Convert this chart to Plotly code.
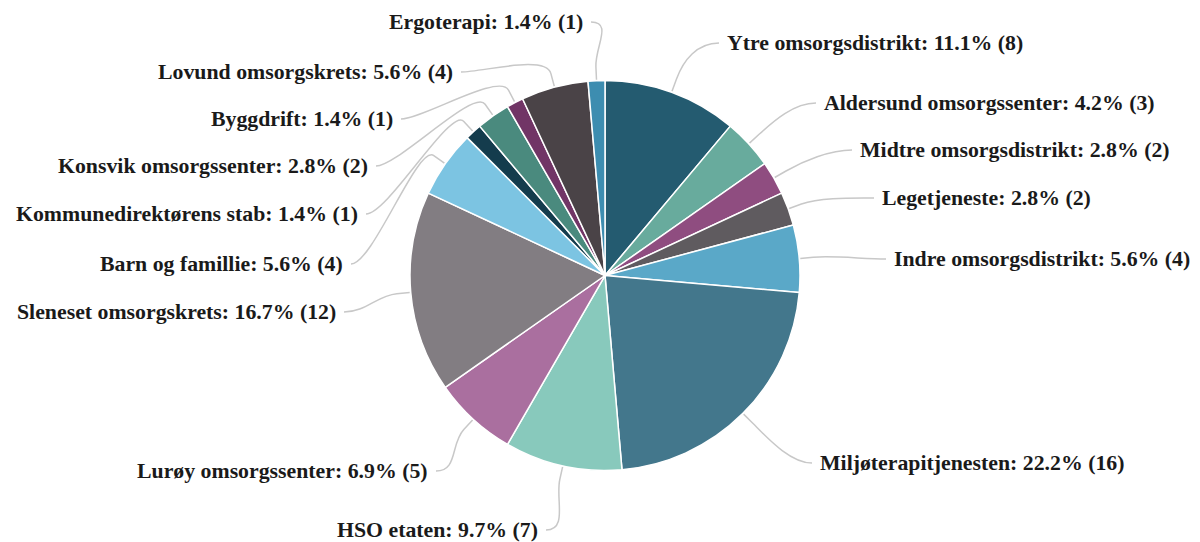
import math
import plotly.graph_objects as go

# Fordeling per enhet (antall), i rekkefølge med klokka fra kl. 12
units = [
    "Ytre omsorgsdistrikt", "Aldersund omsorgssenter", "Midtre omsorgsdistrikt",
    "Legetjeneste", "Indre omsorgsdistrikt", "Miljøterapitjenesten", "HSO etaten",
    "Lurøy omsorgssenter", "Sleneset omsorgskrets", "Barn og famillie",
    "Kommunedirektørens stab", "Konsvik omsorgssenter", "Byggdrift",
    "Lovund omsorgskrets", "Ergoterapi",
]
counts = [8, 3, 2, 2, 4, 16, 7, 5, 12, 4, 1, 2, 1, 4, 1]

colors = [
    "#245b70", "#68ab9d", "#8f4d80", "#5f5b5f", "#5aa8c8", "#43778c", "#88c9bc",
    "#aa6f9f", "#827d82", "#7cc4e2", "#143c4d", "#4a8a7e", "#713566", "#4a4347",
    "#3d8db0",
]

# Label placement (pixel anchor x, pixel y, side) for the outside labels
label_pos = [
    (725, 43, "r"), (822, 103, "r"), (858, 150, "r"), (880, 198, "r"),
    (892, 259, "r"), (818, 463, "r"), (540, 530, "l"), (430, 471, "l"),
    (338, 312, "l"), (345, 264, "l"), (360, 214, "l"), (370, 166, "l"),
    (395, 119, "l"), (455, 72, "l"), (585, 22, "l"),
]

W, H = 1200, 542
CX, CY, R = 605, 275.5, 195

total = sum(counts)
labels = [f"{u}: {100 * c / total:.1f}% ({c})" for u, c in zip(units, counts)]

fig = go.Figure()
fig.add_trace(go.Pie(
    labels=units, values=counts, sort=False, direction="clockwise", rotation=0,
    marker=dict(colors=colors, line=dict(color="white", width=1.5)),
    textinfo="none", hoverinfo="label+value+percent", showlegend=False,
    domain=dict(x=[(CX - R) / W, (CX + R) / W],
                y=[1 - (CY + R) / H, 1 - (CY - R) / H]),
))

shapes = []
annotations = []
cum = 0
for lab, c, (lx, ly, side) in zip(labels, counts, label_pos):
    mid = (cum + c / 2) / total * 2 * math.pi
    cum += c
    dx, dy = math.sin(mid), -math.cos(mid)
    p0 = (CX + (R + 1) * dx, CY + (R + 1) * dy)
    p1 = (CX + (R + 14) * dx, CY + (R + 14) * dy)
    s = 1 if side == "r" else -1
    ex = lx - s * 6
    ey = ly
    c1 = (CX + (R + 34) * dx, CY + (R + 34) * dy)
    c2 = (ex - s * 22, ey)
    path = (f"M {p0[0]:.1f},{p0[1]:.1f} L {p1[0]:.1f},{p1[1]:.1f} "
            f"C {c1[0]:.1f},{c1[1]:.1f} {c2[0]:.1f},{c2[1]:.1f} {ex:.1f},{ey:.1f}")
    shapes.append(dict(type="path", path=path, xref="x", yref="y",
                       line=dict(color="#c8c8c8", width=1.5), layer="below"))
    annotations.append(dict(
        x=lx, y=ly, xref="x", yref="y", text=f"<b>{lab}</b>", showarrow=False,
        xanchor="left" if side == "r" else "right", yanchor="middle",
        font=dict(family="Liberation Serif, Times New Roman, serif", size=21.8,
                  color="#1a1a1a"),
    ))

fig.update_layout(
    width=W, height=H, margin=dict(l=0, r=0, t=0, b=0),
    paper_bgcolor="white", plot_bgcolor="rgba(0,0,0,0)",
    xaxis=dict(range=[0, W], visible=False, domain=[0, 1], fixedrange=True),
    yaxis=dict(range=[H, 0], visible=False, domain=[0, 1], fixedrange=True),
    shapes=shapes, annotations=annotations,
)

fig.write_html("out.html")
